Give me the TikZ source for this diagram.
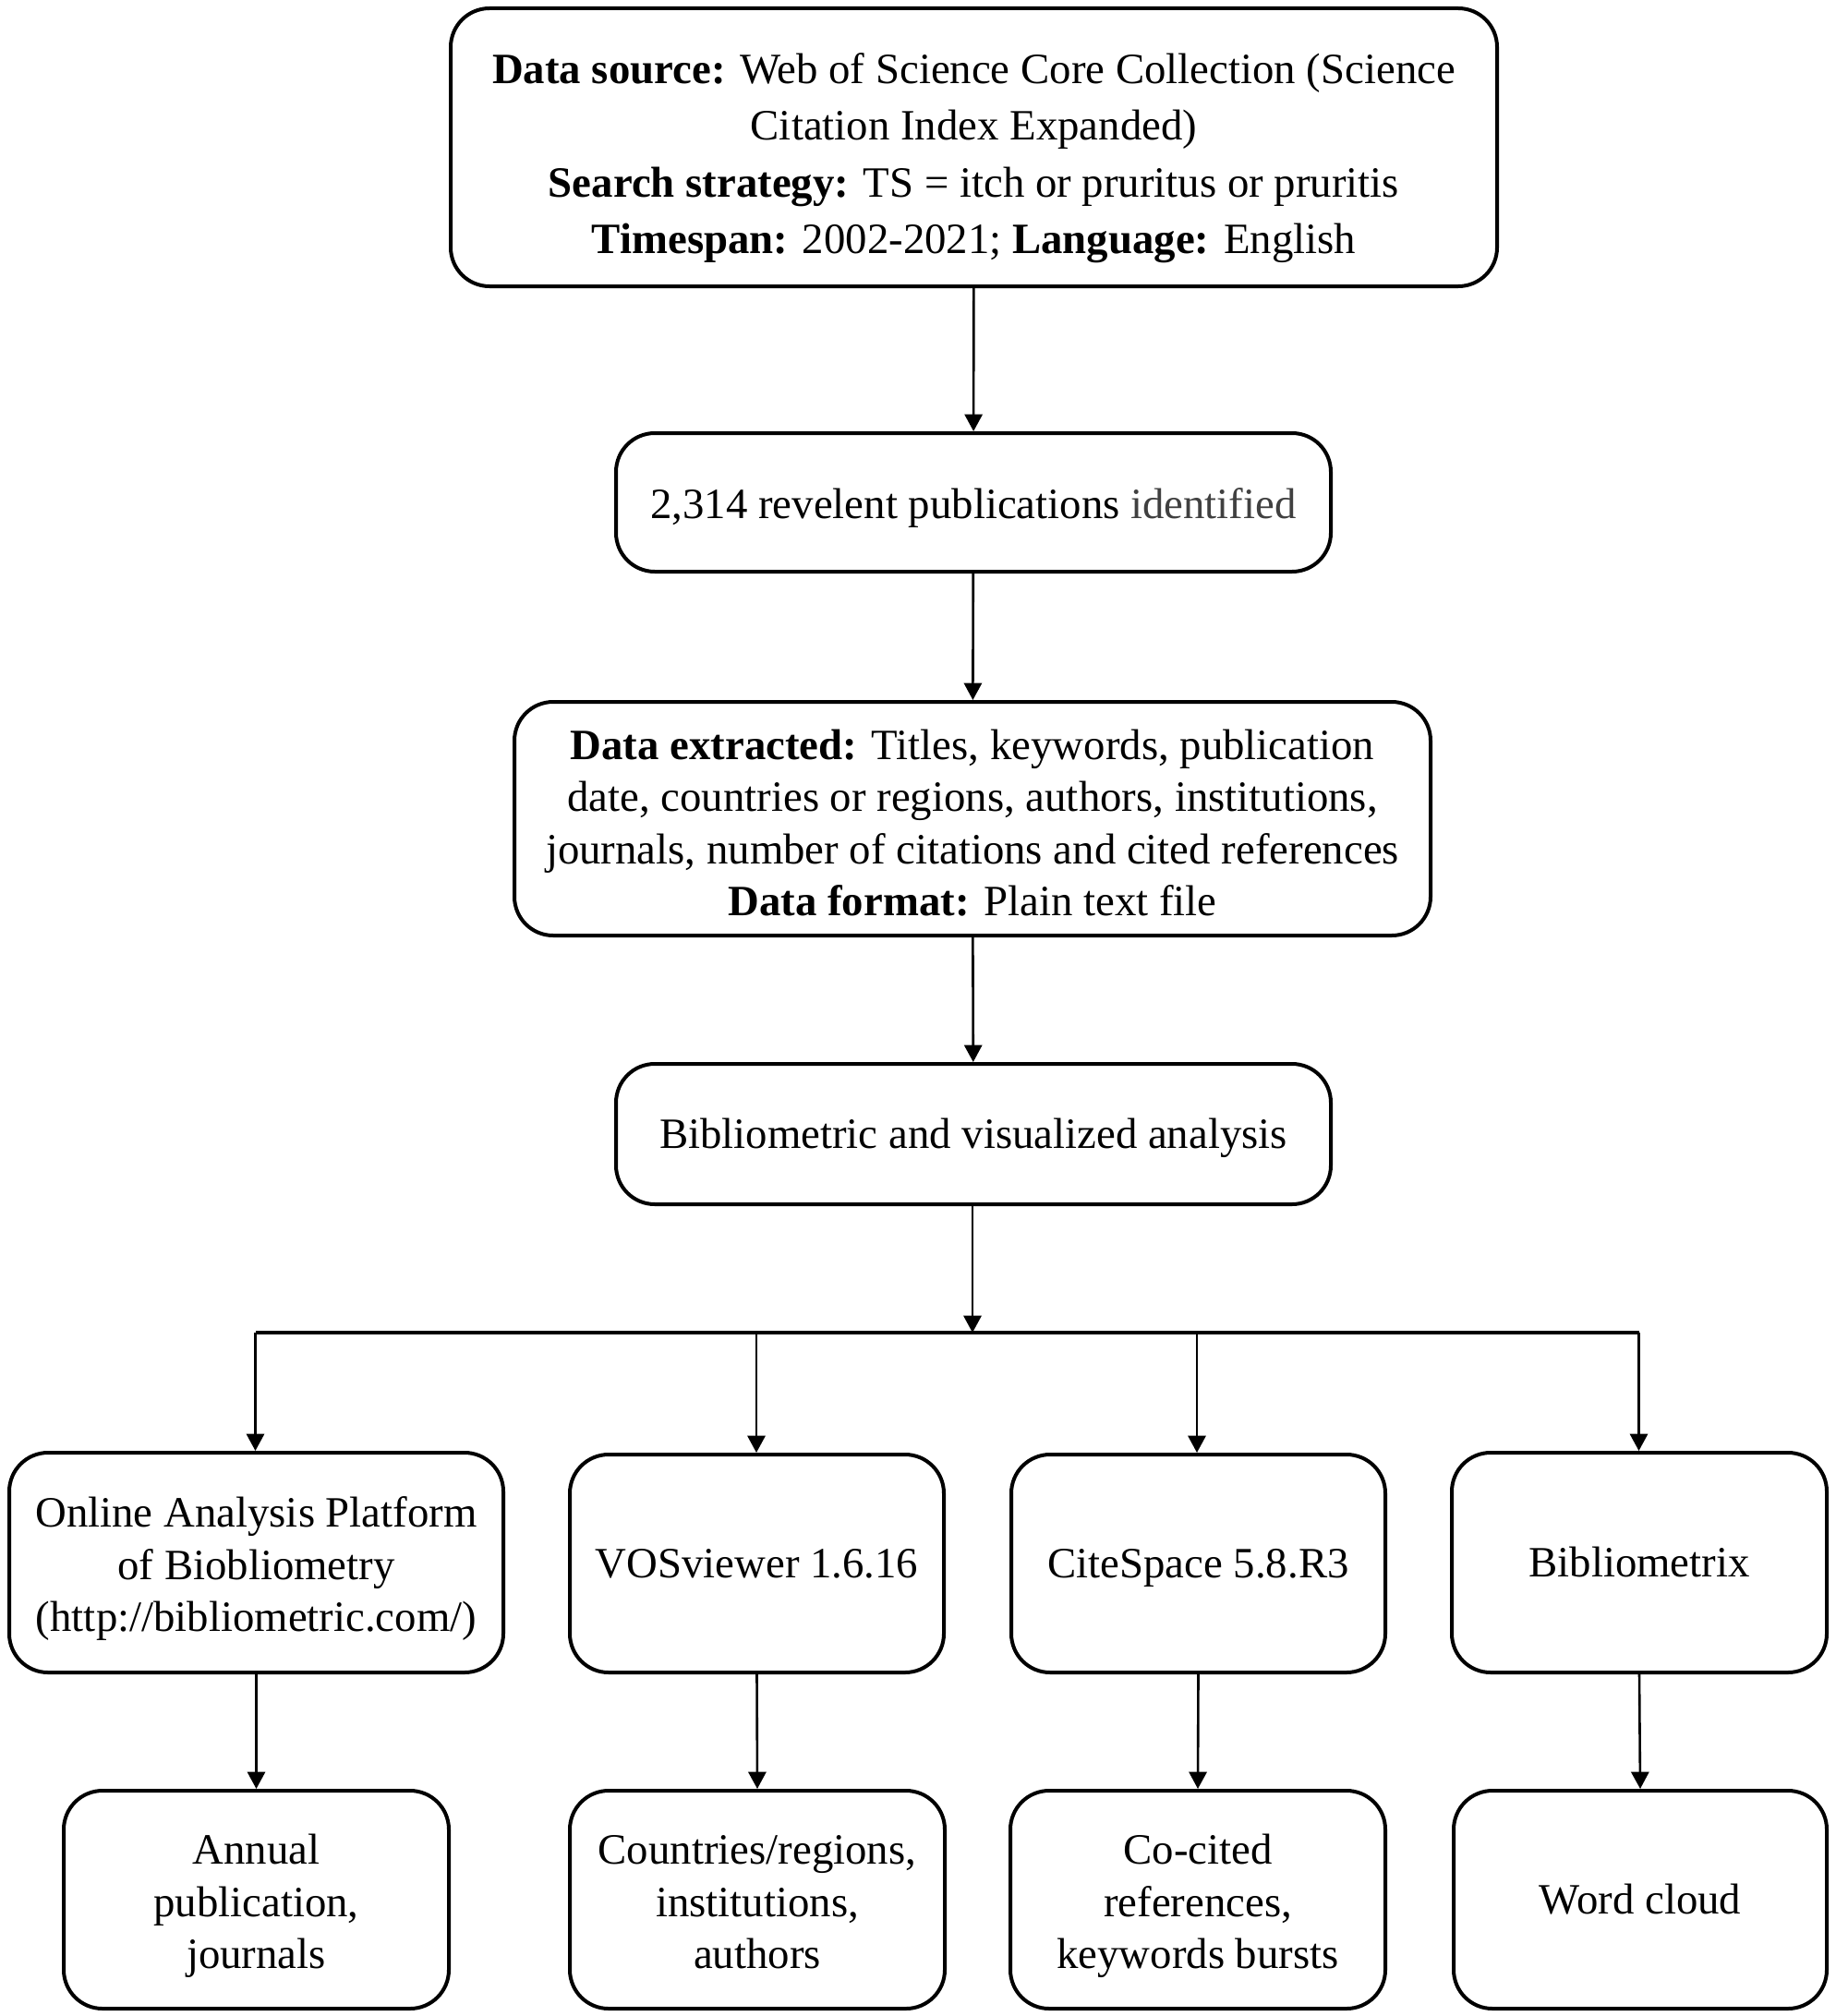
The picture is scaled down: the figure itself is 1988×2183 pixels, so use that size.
\documentclass[tikz,border=0pt]{standalone}
\usepackage{fontspec}
\setmainfont{Liberation Serif}
\usetikzlibrary{arrows.meta}
\definecolor{greytext}{HTML}{404040}
\newcommand{\topstrut}[1]{\rule{0pt}{#1}}
\newcommand{\botstrut}{\rule[-0.216em]{0pt}{0pt}}
\begin{document}
\begin{tikzpicture}[x=0.25pt,y=-0.25pt,
  box/.style={draw, line width=1pt, rounded corners=10.5pt, inner sep=0pt, align=center,
    font=\fontsize{11.7pt}{14.1pt}\selectfont},
  arr/.style={line width=0.65pt, -{Triangle[length=4.6pt,width=4.8pt]}},
  bar/.style={line width=0.85pt}]
\useasboundingbox (0,0) rectangle (1988,2183);
\node[box, minimum width=283.25pt, minimum height=75.25pt, font=\fontsize{11.7pt}{15.3pt}\selectfont] (b1) at (1054.5,159.5)
  {\topstrut{1.2em}\textbf{Data source:} Web of Science Core Collection (Science\\Citation Index Expanded)\\
   \textbf{Search strategy:} TS = itch or pruritus or pruritis\\
   \textbf{Timespan:} 2002-2021; \textbf{Language:} English\botstrut};
\node[box, minimum width=193.5pt, minimum height=37.5pt] (b2) at (1054,544)
  {\topstrut{0.95em}2,314 revelent publications \textcolor{greytext}{identified}\botstrut};
\node[box, minimum width=248pt, minimum height=63.25pt] (b3) at (1053,886.5)
  {\topstrut{1.085em}\textbf{Data extracted:} Titles, keywords, publication\\
   date, countries or regions, authors, institutions,\\
   journals, number of citations and cited references\\
   \textbf{Data format:} Plain text file\botstrut};
\node[box, minimum width=193.5pt, minimum height=38pt] (b4) at (1054,1228)
  {\topstrut{0.89em}Bibliometric and visualized analysis\botstrut};
\node[box, minimum width=133.75pt, minimum height=59.5pt] (ra) at (277.5,1692)
  {\topstrut{1.0em}Online Analysis Platform\\of Biobliometry\\(http://bibliometric.com/)\botstrut};
\node[box, minimum width=101.25pt, minimum height=59pt] (rb) at (819.5,1693)
  {\topstrut{0.89em}VOSviewer 1.6.16\botstrut};
\node[box, minimum width=101.25pt, minimum height=59pt] (rc) at (1297.5,1693)
  {\topstrut{0.89em}CiteSpace 5.8.R3\botstrut};
\node[box, minimum width=101.5pt, minimum height=59.5pt] (rd) at (1775,1692)
  {\topstrut{0.89em}Bibliometrix\botstrut};
\node[box, minimum width=104.25pt, minimum height=59pt] (sa) at (277.5,2057)
  {\topstrut{1.0em}Annual\\publication,\\journals\botstrut};
\node[box, minimum width=101.5pt, minimum height=59pt] (sb) at (820,2057)
  {\topstrut{1.0em}Countries/regions,\\institutions,\\authors\botstrut};
\node[box, minimum width=101.5pt, minimum height=59pt] (sc) at (1297,2057)
  {\topstrut{1.0em}Co-cited\\references,\\keywords bursts\botstrut};
\node[box, minimum width=101pt, minimum height=59pt] (sd) at (1776,2057)
  {\topstrut{0.89em}Word cloud\botstrut};
\coordinate (j) at (1053,1443);
\coordinate (ja) at (276.5,1443);
\coordinate (jb) at (819,1443);
\coordinate (jc) at (1296,1443);
\coordinate (jd) at (1774.5,1443);
\draw[arr] (b1) -- (b2);
\draw[arr] (b2) -- (b3);
\draw[arr] (b3) -- (b4);
\draw[arr] (b4.south -| j) -- (j);
\draw[bar] (ja) -- (jd);
\draw[arr] (ja) -- (ja |- ra.north);
\draw[arr] (jb) -- (jb |- rb.north);
\draw[arr] (jc) -- (jc |- rc.north);
\draw[arr] (jd) -- (jd |- rd.north);
\draw[arr] (ra.south) -- (sa.north);
\draw[arr] (rb.south) -- (sb.north);
\draw[arr] (rc.south) -- (sc.north);
\draw[arr] (rd.south) -- (sd.north);
\end{tikzpicture}
\end{document}
